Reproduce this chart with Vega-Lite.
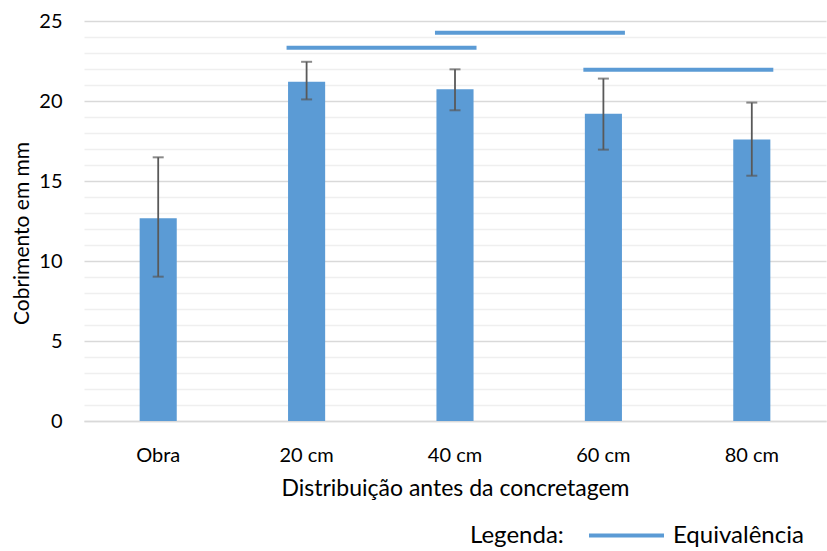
{
  "$schema": "https://vega.github.io/schema/vega-lite/v6.json",
  "width": 742,
  "height": 400,
  "autosize": {"type": "none"},
  "padding": {"left": 84, "top": 21, "right": 1, "bottom": 130},
  "background": "white",
  "config": {
    "view": {"stroke": null},
    "font": "Lato",
    "axis": {"labelColor": "#000000", "titleColor": "#000000", "labelFont": "Lato", "titleFont": "Lato", "titleFontWeight": "normal"},
    "axisY": {"ticks": false, "domain": false, "labelFontSize": 20, "labelPadding": 22, "gridWidth": 1.3, "labelOverlap": false,
      "titleFontSize": 21, "titleAngle": -90, "titleAlign": "center", "titleBaseline": "alphabetic", "titleX": -56, "titleY": 212},
    "legend": {"labelColor": "#000000", "titleColor": "#000000", "labelFont": "Lato", "titleFont": "Lato"}
  },
  "datasets": {
    "medidas": [
      {"categoria": "Obra", "media": 12.67, "minimo": 9.02, "maximo": 16.48},
      {"categoria": "20 cm", "media": 21.2, "minimo": 20.1, "maximo": 22.45},
      {"categoria": "40 cm", "media": 20.73, "minimo": 19.42, "maximo": 21.98},
      {"categoria": "60 cm", "media": 19.21, "minimo": 16.96, "maximo": 21.4},
      {"categoria": "80 cm", "media": 17.6, "minimo": 15.33, "maximo": 19.9}
    ],
    "equivalencias": [
      {"inicio": "20 cm", "fim": "40 cm", "valor": 23.33, "legenda": "Equivalência"},
      {"inicio": "40 cm", "fim": "60 cm", "valor": 24.27, "legenda": "Equivalência"},
      {"inicio": "60 cm", "fim": "80 cm", "valor": 21.96, "legenda": "Equivalência"}
    ]
  },
  "layer": [
    {
      "data": {"name": "medidas"},
      "mark": {"type": "bar", "color": "#5B9BD5", "width": {"band": 0.25}},
      "encoding": {
        "x": {
          "field": "categoria", "type": "nominal", "sort": null,
          "title": "Distribuição antes da concretagem",
          "scale": {"domain": ["Obra", "20 cm", "40 cm", "60 cm", "80 cm"], "paddingInner": 0, "paddingOuter": 0},
          "axis": {
            "labelAngle": 0, "labelFontSize": 20, "labelBaseline": "alphabetic", "labelPadding": 40,
            "ticks": false, "domain": true, "domainColor": "#D9D9D9", "domainWidth": 1.3,
            "titleFontSize": 23, "titleBaseline": "alphabetic", "titleY": 74
          }
        },
        "y": {
          "field": "media", "type": "quantitative",
          "title": "Cobrimento em mm",
          "scale": {"domain": [0, 25], "nice": false, "zero": true},
          "axis": {
            "values": [0,1,2,3,4,5,6,7,8,9,10,11,12,13,14,15,16,17,18,19,20,21,22,23,24,25],
            "labelExpr": "datum.value % 5 === 0 ? datum.label : ''",
            "gridColor": {"condition": {"test": "datum.value % 5 === 0", "value": "#D9D9D9"}, "value": "#EFEFEF"}
          }
        }
      }
    },
    {
      "data": {"name": "medidas"},
      "mark": {"type": "rule", "color": "#595959", "strokeWidth": 1.8},
      "encoding": {
        "x": {"field": "categoria", "type": "nominal", "sort": null, "title": "Distribuição antes da concretagem"},
        "y": {"field": "minimo", "type": "quantitative", "title": "Cobrimento em mm",
          "axis": {
            "values": [0,1,2,3,4,5,6,7,8,9,10,11,12,13,14,15,16,17,18,19,20,21,22,23,24,25],
            "labelExpr": "datum.value % 5 === 0 ? datum.label : ''",
            "gridColor": {"condition": {"test": "datum.value % 5 === 0", "value": "#D9D9D9"}, "value": "#EFEFEF"}
          }},
        "y2": {"field": "maximo"}
      }
    },
    {
      "data": {"name": "medidas"},
      "mark": {"type": "tick", "color": "#595959", "size": 11, "thickness": 2},
      "encoding": {
        "x": {"field": "categoria", "type": "nominal", "sort": null, "title": "Distribuição antes da concretagem"},
        "y": {"field": "maximo", "type": "quantitative", "title": "Cobrimento em mm",
          "axis": {
            "values": [0,1,2,3,4,5,6,7,8,9,10,11,12,13,14,15,16,17,18,19,20,21,22,23,24,25],
            "labelExpr": "datum.value % 5 === 0 ? datum.label : ''",
            "gridColor": {"condition": {"test": "datum.value % 5 === 0", "value": "#D9D9D9"}, "value": "#EFEFEF"}
          }}
      }
    },
    {
      "data": {"name": "medidas"},
      "mark": {"type": "tick", "color": "#595959", "size": 11, "thickness": 2},
      "encoding": {
        "x": {"field": "categoria", "type": "nominal", "sort": null, "title": "Distribuição antes da concretagem"},
        "y": {"field": "minimo", "type": "quantitative", "title": "Cobrimento em mm",
          "axis": {
            "values": [0,1,2,3,4,5,6,7,8,9,10,11,12,13,14,15,16,17,18,19,20,21,22,23,24,25],
            "labelExpr": "datum.value % 5 === 0 ? datum.label : ''",
            "gridColor": {"condition": {"test": "datum.value % 5 === 0", "value": "#D9D9D9"}, "value": "#EFEFEF"}
          }}
      }
    },
    {
      "data": {"name": "equivalencias"},
      "mark": {"type": "rule", "strokeWidth": 4},
      "encoding": {
        "x": {"field": "inicio", "type": "nominal", "bandPosition": 0.365, "title": "Distribuição antes da concretagem"},
        "x2": {"field": "fim", "bandPosition": 0.645},
        "y": {"field": "valor", "type": "quantitative", "title": "Cobrimento em mm",
          "axis": {
            "values": [0,1,2,3,4,5,6,7,8,9,10,11,12,13,14,15,16,17,18,19,20,21,22,23,24,25],
            "labelExpr": "datum.value % 5 === 0 ? datum.label : ''",
            "gridColor": {"condition": {"test": "datum.value % 5 === 0", "value": "#D9D9D9"}, "value": "#EFEFEF"}
          }},
        "color": {
          "field": "legenda", "type": "nominal",
          "scale": {"domain": ["Equivalência"], "range": ["#5B9BD5"]},
          "legend": {
            "title": "Legenda:", "titleOrient": "left", "titleFontSize": 24, "titleFontWeight": "normal",
            "titlePadding": 23, "titleBaseline": "bottom", "titleAnchor": "end",
            "orient": "none", "legendX": 386, "legendY": 475, "direction": "horizontal",
            "symbolType": "stroke", "symbolSize": 5625, "symbolStrokeWidth": 4,
            "labelFontSize": 24, "labelOffset": 7
          }
        }
      }
    }
  ]
}
